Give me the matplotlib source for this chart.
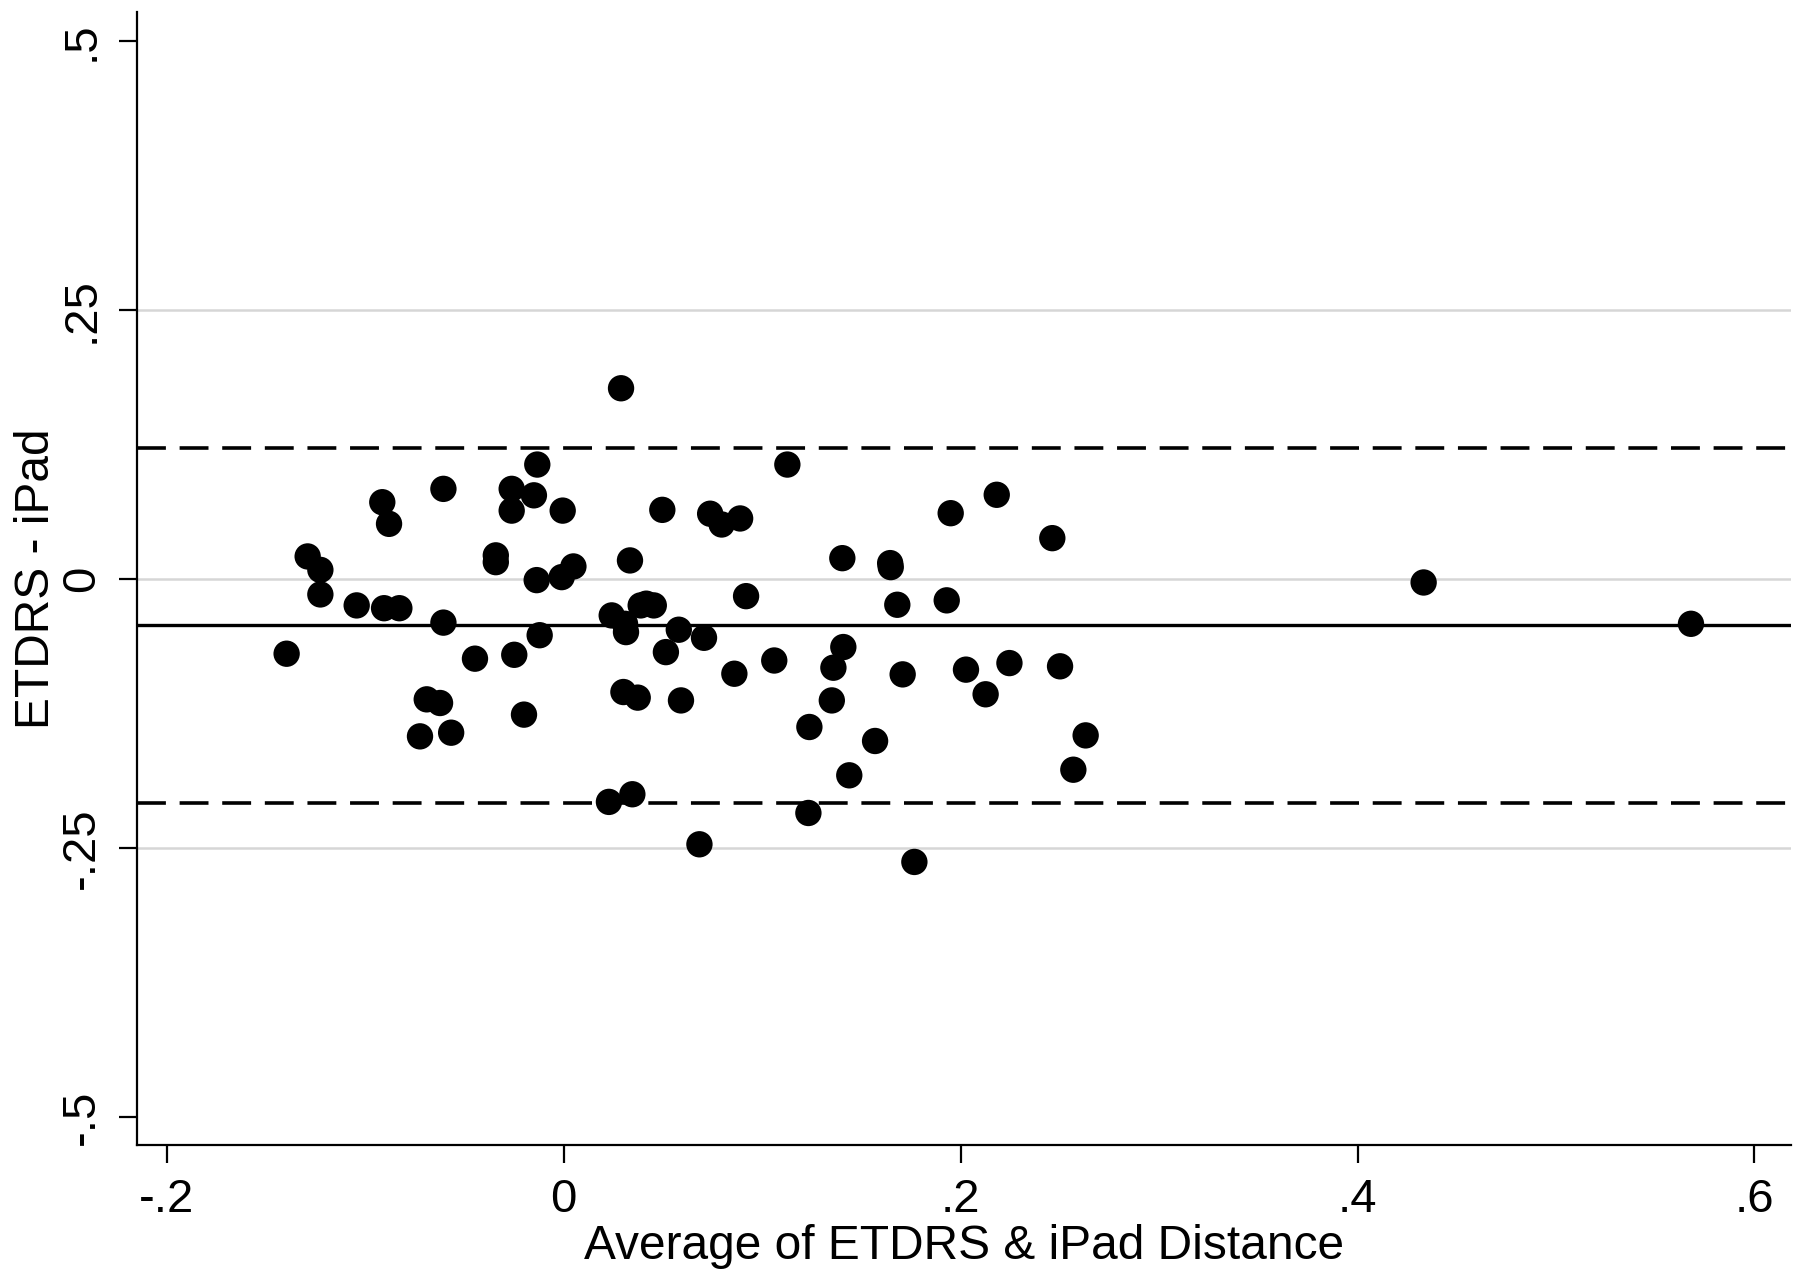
import matplotlib
matplotlib.use("Agg")
import matplotlib.pyplot as plt
import numpy as np

# Bland-Altman data
avg_values = [
    -0.1396, -0.1290, -0.1226, -0.1226, -0.1043, -0.0914, -0.0880, -0.0905, -0.0828, -0.0724,
    -0.0690, -0.0623, -0.0606, -0.0606, -0.0567, -0.0447, -0.0342, -0.0342, -0.0262, -0.0262,
    -0.0249, -0.0200, -0.0150, -0.0133, -0.0136, -0.0121, -0.0005, -0.0010, 0.0049, 0.0289,
    0.0228, 0.0242, 0.0314, 0.0309, 0.0334, 0.0301, 0.0373, 0.0346, 0.0388, 0.0416,
    0.0454, 0.0497, 0.0515, 0.0580, 0.0591, 0.0684, 0.0707, 0.0738, 0.0796, 0.0889,
    0.0860, 0.0919, 0.1061, 0.1127, 0.1238, 0.1233, 0.1351, 0.1359, 0.1404, 0.1409,
    0.1439, 0.1569, 0.1645, 0.1648, 0.1681, 0.1708, 0.1767, 0.1930, 0.1950, 0.2027,
    0.2126, 0.2182, 0.2246, 0.2462, 0.2501, 0.2568, 0.2630, 0.4333, 0.5680,
]
diff_values = [
    -0.0694, 0.0210, 0.0085, -0.0143, -0.0245, 0.0714, 0.0513, -0.0271, -0.0271, -0.1462,
    -0.1118, -0.1152, 0.0838, -0.0405, -0.1428, -0.0740, 0.0220, 0.0157, 0.0838, 0.0636,
    -0.0704, -0.1260, 0.0778, 0.1064, -0.0010, -0.0522, 0.0636, 0.0018, 0.0117, 0.1773,
    -0.2071, -0.0338, -0.0493, -0.0416, 0.0173, -0.1050, -0.1102, -0.2000, -0.0245, -0.0229,
    -0.0245, 0.0643, -0.0679, -0.0471, -0.1128, -0.2465, -0.0546, 0.0607, 0.0507, 0.0563,
    -0.0880, -0.0159, -0.0757, 0.1064, -0.1375, -0.2174, -0.1128, -0.0824, 0.0194, -0.0632,
    -0.1824, -0.1505, 0.0148, 0.0111, -0.0239, -0.0886, -0.2629, -0.0198, 0.0612, -0.0842,
    -0.1071, 0.0783, -0.0781, 0.0380, -0.0811, -0.1772, -0.1453, -0.0032, -0.0416,
]
mean_diff = -0.0431
loa_upper = 0.1222
loa_lower = -0.2084

x_ticks = [-0.2, 0, 0.2, 0.4, 0.6]
x_tick_labels = ["-.2", "0", ".2", ".4", ".6"]
y_ticks = [-0.5, -0.25, 0, 0.25, 0.5]
y_tick_labels = ["-.5", "-.25", "0", ".25", ".5"]
grid_levels = [-0.25, 0, 0.25]

plt.rcParams["font.family"] = ["Liberation Sans", "DejaVu Sans"]

fig = plt.figure(figsize=(18, 12.87), dpi=100)
ax = fig.add_axes([0.0761, 0.1103, 0.9189, 0.8804])

ax.set_xlim(-0.2150, 0.6184)
ax.set_ylim(-0.526, 0.527)

for g in grid_levels:
    ax.axhline(g, color="#d6d6d6", lw=1.8, zorder=1)

ax.axhline(mean_diff, color="black", lw=2.4, zorder=2)
ax.axhline(loa_upper, color="black", lw=2.6, dashes=(8.0, 3.8), zorder=2)
ax.axhline(loa_lower, color="black", lw=2.6, dashes=(8.0, 3.8), zorder=2)

ax.scatter(avg_values, diff_values, s=360, color="black", edgecolors="none", zorder=3)

for side in ["top", "right"]:
    ax.spines[side].set_visible(False)
for side in ["left", "bottom"]:
    ax.spines[side].set_linewidth(1.6)

ax.set_xticks(x_ticks)
ax.set_xticklabels(x_tick_labels)
ax.set_yticks(y_ticks)
ax.set_yticklabels(y_tick_labels, rotation=90, va="center")

ax.tick_params(axis="both", direction="out", length=13, width=1.6, labelsize=34, pad=11)

ax.set_xlabel("Average of ETDRS & iPad Distance", fontsize=34.5)
ax.set_ylabel("ETDRS - iPad", fontsize=34.5)
ax.xaxis.set_label_coords(0.5, -0.070)
ax.yaxis.set_label_coords(-0.047, 0.5)

fig.savefig("out.png", dpi=100, facecolor="white")
